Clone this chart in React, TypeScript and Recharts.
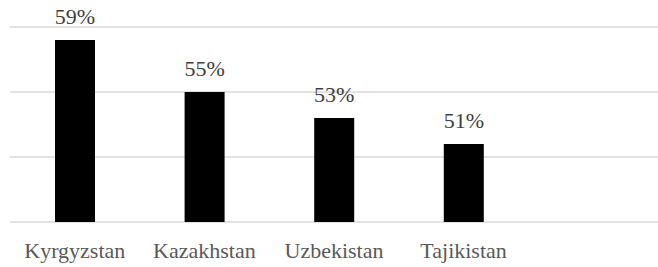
import { Bar, BarChart, CartesianGrid, LabelList, XAxis, YAxis } from 'recharts';

const countries = ['Kyrgyzstan', 'Kazakhstan', 'Uzbekistan', 'Tajikistan'];
const shares = [59, 55, 53, 51];
const yTicks = [45, 50, 55, 60];

const data = countries.map((name, i) => ({ name, value: shares[i] }));

const FONT = "'Liberation Serif', 'DejaVu Serif', serif";

export default function App() {
  return (
    <div style={{ position: 'absolute', left: 0, top: 0, fontFamily: FONT }}>
      <BarChart
        width={658}
        height={267}
        data={data}
        margin={{ top: 27, right: 0, left: 10, bottom: 0 }}
        barCategoryGap={0}
      >
        <CartesianGrid vertical={false} stroke="#d9d9d9" strokeWidth={1.5} />
        <XAxis
          dataKey="name"
          axisLine={false}
          tickLine={false}
          height={45}
          tickMargin={14}
          padding={{ left: 0, right: 129.6 }}
          tick={{ fontSize: 22, fill: '#595959', fontFamily: FONT }}
        />
        <YAxis hide domain={[45, 60]} ticks={yTicks} />
        <Bar dataKey="value" fill="#000000" barSize={40} isAnimationActive={false}>
          <LabelList
            dataKey="value"
            position="top"
            offset={16}
            formatter={(v: any) => `${v}%`}
            fontFamily={FONT}
            fontSize={22}
            fill="#404040"
          />
        </Bar>
      </BarChart>
    </div>
  );
}
